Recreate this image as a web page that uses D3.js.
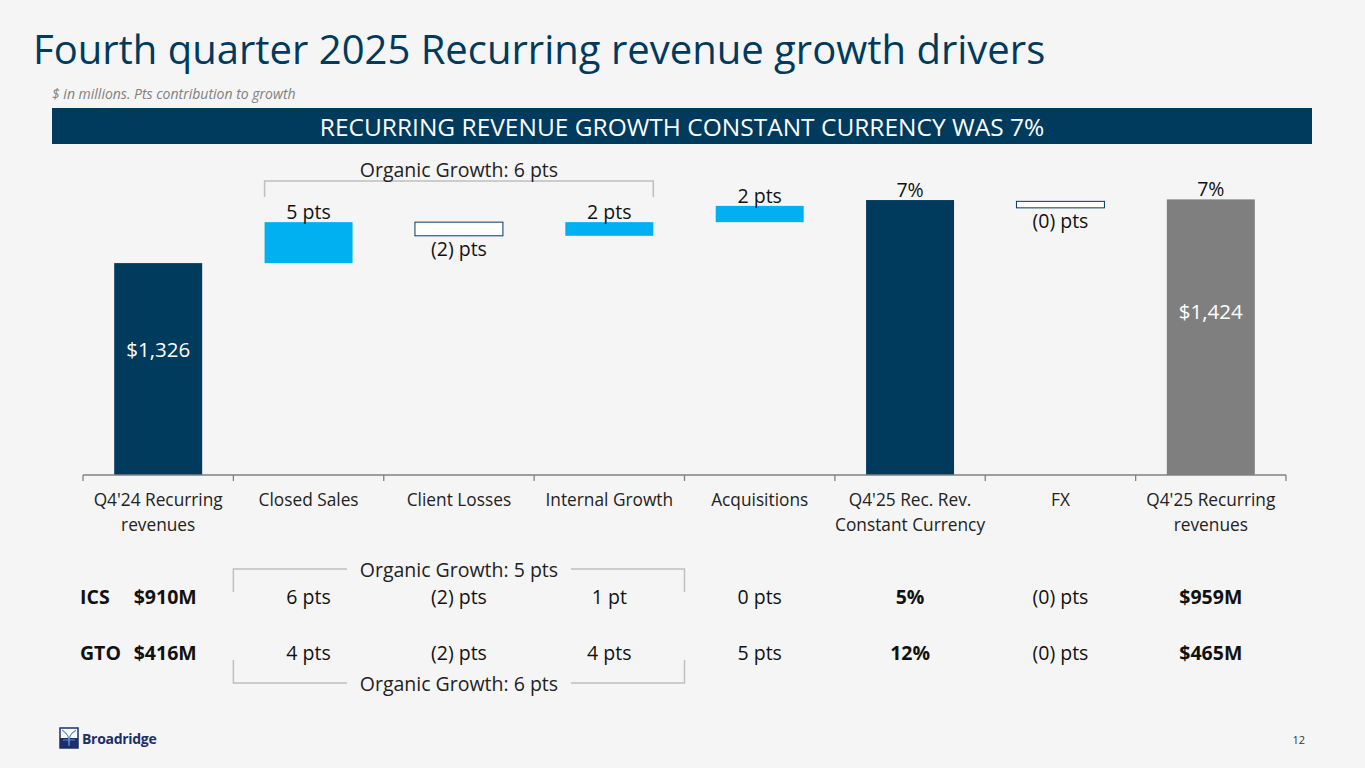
<!DOCTYPE html>
<html>
<head>
<meta charset="utf-8">
<script src="https://cdn.jsdelivr.net/npm/d3@7"></script>
<style>
  html, body { margin: 0; padding: 0; background: #f5f5f5; }
  svg { display: block; font-family: "Open Sans", sans-serif; }
</style>
</head>
<body>
<div id="chart"></div>
<script>
// Waterfall data ($ in millions)
const categories = [
  ["Q4'24 Recurring", "revenues"],
  ["Closed Sales"],
  ["Client Losses"],
  ["Internal Growth"],
  ["Acquisitions"],
  ["Q4'25 Rec. Rev.", "Constant Currency"],
  ["FX"],
  ["Q4'25 Recurring", "revenues"]
];
const barType = ["total", "up", "down", "up", "up", "total", "down", "final"];
const barFrom = [null, 1326, 1389, 1368, 1389, null, 1421, null];
const barTo   = [1326, 1389, 1368, 1389, 1414, 1423, 1411, 1424];
const pointLabels = ["", "5 pts", "(2) pts", "2 pts", "2 pts", "7%", "(0) pts", "7%"];
const innerLabels = ["$1,326", "", "", "", "", "", "", "$1,424"];

// Segment table
const rowNames = ["ICS", "GTO"];
const icsRow = ["$910M", "6 pts", "(2) pts", "1 pt", "0 pts", "5%", "(0) pts", "$959M"];
const gtoRow = ["$416M", "4 pts", "(2) pts", "4 pts", "5 pts", "12%", "(0) pts", "$465M"];
const boldCols = [0, 5, 7];
const organicChart = "Organic Growth: 6 pts";
const organicIcs = "Organic Growth: 5 pts";
const organicGto = "Organic Growth: 6 pts";

const navy = "#003a5c", blue = "#00b0f0", grey = "#7f7f7f", bracketGrey = "#bfbfbf";

const W = 1365, H = 768;
const svg = d3.select("#chart").append("svg")
    .attr("width", W).attr("height", H);

svg.append("rect").attr("width", W).attr("height", H).attr("fill", "#f5f5f5");

// Title block
svg.append("text")
    .attr("x", 33).attr("y", 64)
    .attr("font-size", 40).attr("fill", navy)
    .text("Fourth quarter 2025 Recurring revenue growth drivers");

svg.append("text")
    .attr("x", 52).attr("y", 99)
    .attr("font-size", 14).attr("font-style", "italic").attr("fill", "#808080")
    .text("$ in millions. Pts contribution to growth");

svg.append("rect")
    .attr("x", 52).attr("y", 108).attr("width", 1260).attr("height", 36)
    .attr("fill", navy);
svg.append("text")
    .attr("x", 682).attr("y", 136)
    .attr("text-anchor", "middle").attr("font-size", 24.5).attr("fill", "#fff")
    .text("RECURRING REVENUE GROWTH CONSTANT CURRENCY WAS 7%");

// Scales
const x = d3.scaleBand()
    .domain(d3.range(categories.length))
    .range([83, 1286])
    .paddingInner(0.415)
    .paddingOuter(0.2075);

const y = d3.scaleLinear()
    .domain([1000, 1500])
    .range([475, 150]);

const yMin = y.domain()[0];
const step = x.step();
const left = x.range()[0];

const bars = categories.map((c, i) => {
  const from = barFrom[i] === null ? yMin : barFrom[i];
  return { i, type: barType[i], lo: Math.min(from, barTo[i]), hi: Math.max(from, barTo[i]) };
});

const fillFor = t => t === "total" ? navy : t === "final" ? grey : t === "up" ? blue : "#fff";

svg.selectAll(".bar")
    .data(bars)
    .enter().append("rect")
    .attr("class", "bar")
    .attr("x", d => x(d.i))
    .attr("y", d => y(d.hi))
    .attr("width", x.bandwidth())
    .attr("height", d => y(d.lo) - y(d.hi))
    .attr("fill", d => fillFor(d.type))
    .attr("stroke", d => d.type === "down" ? navy : "none")
    .attr("stroke-width", 1);

// Point labels: above for ups and totals, below for downs
svg.selectAll(".plabel")
    .data(bars)
    .enter().append("text")
    .attr("class", "plabel")
    .attr("x", d => x(d.i) + x.bandwidth() / 2)
    .attr("y", d => d.type === "down" ? y(d.lo) + 20 : y(d.hi) - 3)
    .attr("text-anchor", "middle")
    .attr("font-size", 19.5).attr("fill", "#111")
    .text(d => pointLabels[d.i]);

// Value labels inside total bars
svg.selectAll(".ilabel")
    .data(bars.filter(d => innerLabels[d.i]))
    .enter().append("text")
    .attr("class", "ilabel")
    .attr("x", d => x(d.i) + x.bandwidth() / 2)
    .attr("y", d => y(d.hi) + (y(d.lo) - y(d.hi)) * 0.41 + 7)
    .attr("text-anchor", "middle")
    .attr("font-size", 20.5).attr("fill", "#fff")
    .text(d => innerLabels[d.i]);

// Axis line with ticks on category boundaries
const axisY = y(yMin);
svg.append("line")
    .attr("x1", x.range()[0]).attr("x2", x.range()[1])
    .attr("y1", axisY).attr("y2", axisY)
    .attr("stroke", "#808080").attr("stroke-width", 1.3);
svg.selectAll(".tick")
    .data(d3.range(categories.length + 1))
    .enter().append("line")
    .attr("x1", d => left + d * step).attr("x2", d => left + d * step)
    .attr("y1", axisY).attr("y2", axisY + 6)
    .attr("stroke", "#808080").attr("stroke-width", 1.3);

// Category labels
const catText = svg.selectAll(".cat")
    .data(categories)
    .enter().append("text")
    .attr("class", "cat")
    .attr("text-anchor", "middle")
    .attr("font-size", 17.3).attr("fill", "#222");
catText.selectAll("tspan")
    .data((d, i) => d.map(line => ({ line, i })))
    .enter().append("tspan")
    .attr("x", d => x(d.i) + x.bandwidth() / 2)
    .attr("y", (d, j) => axisY + 31 + j * 25)
    .text(d => d.line);

// Organic growth bracket above chart
const chartBracketL = x(1), chartBracketR = x(3) + x.bandwidth();
svg.append("path")
    .attr("d", `M${chartBracketL},197 V181 H${chartBracketR} V197`)
    .attr("fill", "none").attr("stroke", bracketGrey).attr("stroke-width", 1.5);
svg.append("text")
    .attr("x", (chartBracketL + chartBracketR) / 2).attr("y", 177)
    .attr("text-anchor", "middle").attr("font-size", 19.5).attr("fill", "#222")
    .text(organicChart);

// Segment table
const rows = [icsRow, gtoRow];
const rowY = [604, 660];
rows.forEach((row, r) => {
  svg.append("text")
      .attr("x", 80).attr("y", rowY[r])
      .attr("font-size", 19.5).attr("font-weight", "bold").attr("fill", "#111")
      .text(rowNames[r]);
  svg.selectAll(".row" + r)
      .data(row)
      .enter().append("text")
      .attr("class", "row" + r)
      .attr("x", (d, i) => x(i) + x.bandwidth() / 2 + (i === 0 ? 7 : 0))
      .attr("y", rowY[r])
      .attr("text-anchor", "middle")
      .attr("font-size", 19.5)
      .attr("font-weight", (d, i) => boldCols.includes(i) ? "bold" : "normal")
      .attr("fill", "#111")
      .text(d => d);
});

// Table brackets
const tbL = left + step, tbR = left + 4 * step, tbMid = (tbL + tbR) / 2, gap = 112;
function tableBracket(lineY, tickY, textY, label) {
  svg.append("path")
      .attr("d", `M${tbL},${tickY} V${lineY} H${tbMid - gap}`)
      .attr("fill", "none").attr("stroke", bracketGrey).attr("stroke-width", 1.5);
  svg.append("path")
      .attr("d", `M${tbMid + gap},${lineY} H${tbR} V${tickY}`)
      .attr("fill", "none").attr("stroke", bracketGrey).attr("stroke-width", 1.5);
  svg.append("text")
      .attr("x", tbMid).attr("y", textY)
      .attr("text-anchor", "middle").attr("font-size", 19.5).attr("fill", "#222")
      .text(label);
}
tableBracket(569, 592, 577, organicIcs);
tableBracket(683, 660, 691, organicGto);

// Footer: logo and page number
const logo = svg.append("g").attr("transform", "translate(60,728)");
logo.append("rect").attr("width", 18).attr("height", 20).attr("fill", "#fff")
    .attr("stroke", "#1c2f6b").attr("stroke-width", 1.5);
logo.append("rect").attr("y", 10).attr("width", 18).attr("height", 10).attr("fill", "#1c2f6b");
logo.append("path")
    .attr("d", "M2,2 C8,6 10,10 9,18 M16,2 C10,6 8,10 9,18 M3,12 C7,12 11,12 15,12")
    .attr("fill", "none").attr("stroke", "#5b8fd1").attr("stroke-width", 1.2);
logo.append("text")
    .attr("x", 22).attr("y", 16)
    .attr("font-size", 14).attr("font-weight", "bold").attr("fill", "#1c2f6b")
    .attr("letter-spacing", -0.3)
    .text("Broadridge");

svg.append("text")
    .attr("x", 1305).attr("y", 744)
    .attr("text-anchor", "end").attr("font-size", 11).attr("fill", "#333")
    .text("12");
</script>
</body>
</html>
